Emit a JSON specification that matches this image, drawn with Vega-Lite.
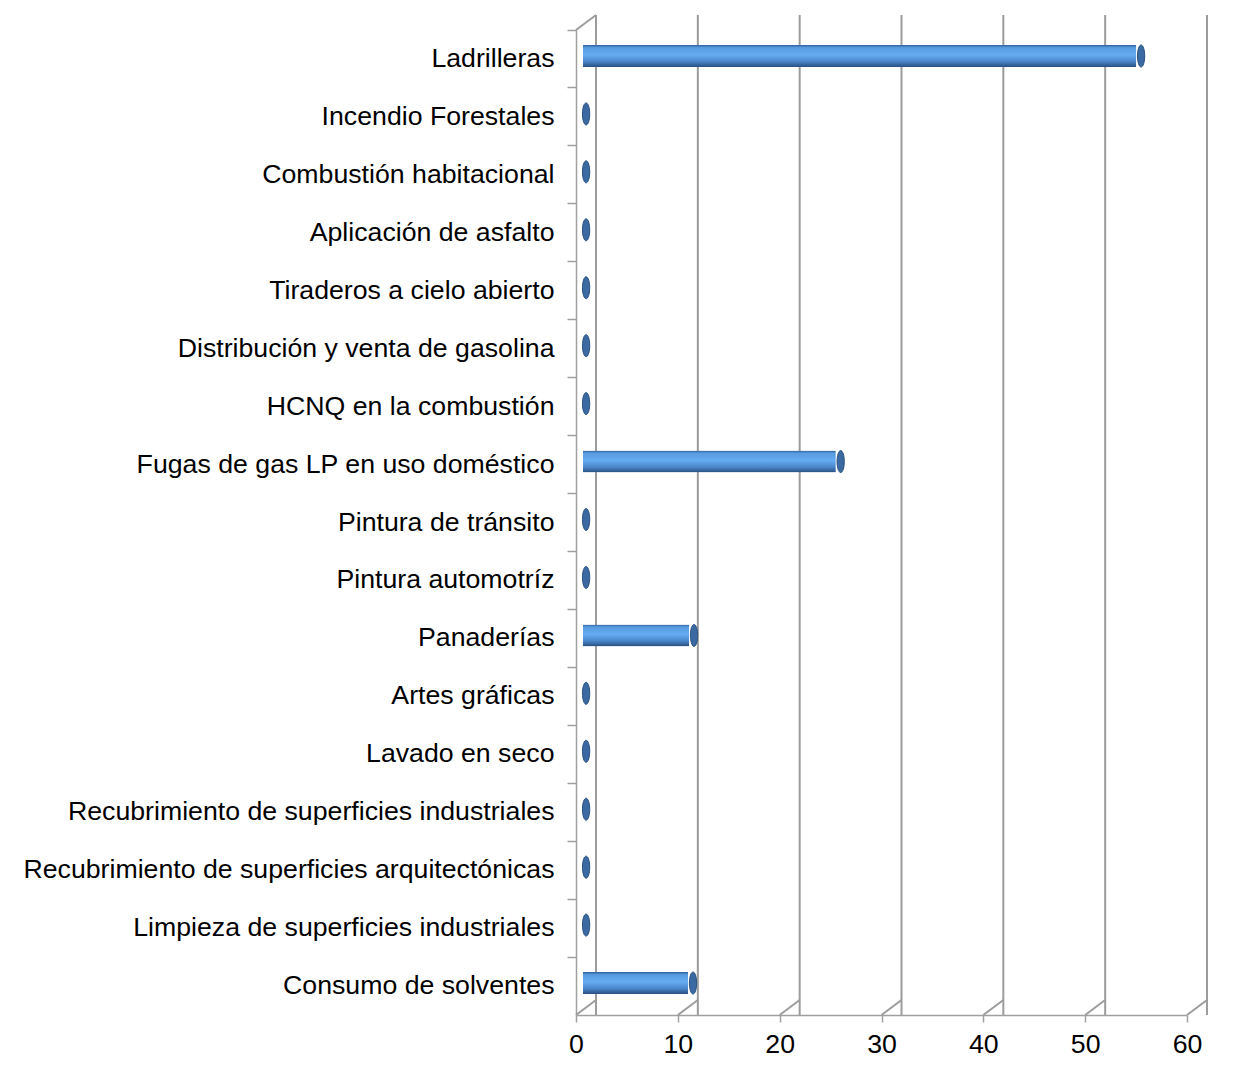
{
  "$schema": "https://vega.github.io/schema/vega-lite/v6.json",
  "width": 611,
  "height": 985,
  "autosize": {"type": "none"},
  "padding": {"left": 576, "top": 30, "right": 73, "bottom": 74},
  "background": "white",
  "config": {"view": {"stroke": null}, "font": "Liberation Sans"},
  "datasets": {
    "fuentes": [
      {"fuente": "Ladrilleras", "v": 55},
      {"fuente": "Incendio Forestales", "v": 0.5},
      {"fuente": "Combustión habitacional", "v": 0.5},
      {"fuente": "Aplicación de asfalto", "v": 0.5},
      {"fuente": "Tiraderos a cielo abierto", "v": 0.5},
      {"fuente": "Distribución y venta de gasolina", "v": 0.5},
      {"fuente": "HCNQ en la combustión", "v": 0.5},
      {"fuente": "Fugas de gas LP en uso doméstico", "v": 25.5},
      {"fuente": "Pintura de tránsito", "v": 0.5},
      {"fuente": "Pintura automotríz", "v": 0.5},
      {"fuente": "Panaderías", "v": 11.1},
      {"fuente": "Artes gráficas", "v": 0.5},
      {"fuente": "Lavado en seco", "v": 0.5},
      {"fuente": "Recubrimiento de superficies industriales", "v": 0.5},
      {"fuente": "Recubrimiento de superficies arquitectónicas", "v": 0.5},
      {"fuente": "Limpieza de superficies industriales", "v": 0.5},
      {"fuente": "Consumo de solventes", "v": 11}
    ],
    "ticks": [{"v": 0}, {"v": 10}, {"v": 20}, {"v": 30}, {"v": 40}, {"v": 50}, {"v": 60}],
    "origen": [{"v": 0}]
  },
  "layer": [
    {
      "data": {"name": "ticks"},
      "mark": {"type": "rule", "color": "#9c9c9c", "strokeWidth": 2, "xOffset": 20, "yOffset": -15},
      "encoding": {
        "x": {"field": "v", "type": "quantitative"}
      }
    },
    {
      "data": {"name": "ticks"},
      "mark": {"type": "rule", "color": "#9c9c9c", "strokeWidth": 2, "x2Offset": 20, "y2Offset": -15},
      "encoding": {
        "x": {"field": "v", "type": "quantitative"},
        "x2": {"field": "v"},
        "y": {"value": "height"},
        "y2": {"value": "height"}
      }
    },
    {
      "data": {"name": "origen"},
      "mark": {"type": "rule", "color": "#9c9c9c", "strokeWidth": 2, "x2Offset": 20, "y2Offset": -15},
      "encoding": {
        "x": {"field": "v", "type": "quantitative"},
        "x2": {"field": "v"},
        "y": {"value": 0},
        "y2": {"value": 0}
      }
    },
    {
      "data": {"name": "fuentes"},
      "mark": {
        "type": "bar",
        "size": 22,
        "xOffset": 7,
        "yOffset": -3,
        "cornerRadiusTopLeft": 6,
        "cornerRadiusBottomLeft": 6,
        "color": {
          "gradient": "linear",
          "x1": 0, "y1": 0, "x2": 0, "y2": 1,
          "stops": [
            {"offset": 0, "color": "#2f5f98"},
            {"offset": 0.12, "color": "#579ae0"},
            {"offset": 0.45, "color": "#66acf2"},
            {"offset": 0.75, "color": "#4a86ca"},
            {"offset": 1, "color": "#284f80"}
          ]
        }
      },
      "encoding": {
        "y": {
          "field": "fuente", "type": "nominal", "sort": null,
          "scale": {"paddingInner": 0, "paddingOuter": 0},
          "axis": {
            "title": null,
            "grid": false,
            "domainColor": "#a0a0a0",
            "domainWidth": 1.5,
            "tickColor": "#a0a0a0",
            "tickWidth": 1.5,
            "tickSize": 9,
            "bandPosition": 0,
            "labelPadding": 13,
            "labelFont": "Liberation Sans",
            "labelFontSize": 26.7,
            "labelColor": "#000000",
            "labelLimit": 0
          }
        },
        "x": {
          "field": "v", "type": "quantitative",
          "scale": {"domain": [0, 60], "nice": false},
          "axis": {
            "title": null,
            "grid": false,
            "values": [0, 10, 20, 30, 40, 50, 60],
            "labelFlush": false,
            "domainColor": "#a0a0a0",
            "domainWidth": 1.5,
            "tickColor": "#a0a0a0",
            "tickWidth": 1.5,
            "tickSize": 7,
            "labelPadding": 9,
            "labelFont": "Liberation Sans",
            "labelFontSize": 26.7,
            "labelColor": "#000000"
          }
        }
      }
    },
    {
      "data": {"name": "fuentes"},
      "mark": {
        "type": "point",
        "shape": "M0,-1 A0.33,1 0 1,1 0,1 A0.33,1 0 1,1 0,-1 Z",
        "size": 484,
        "filled": true,
        "xOffset": 5,
        "yOffset": -3,
        "fill": "#3b6aa3",
        "stroke": "#28507f",
        "strokeWidth": 1,
        "opacity": 1
      },
      "encoding": {
        "y": {"field": "fuente", "type": "nominal", "sort": null},
        "x": {"field": "v", "type": "quantitative"}
      }
    }
  ]
}
